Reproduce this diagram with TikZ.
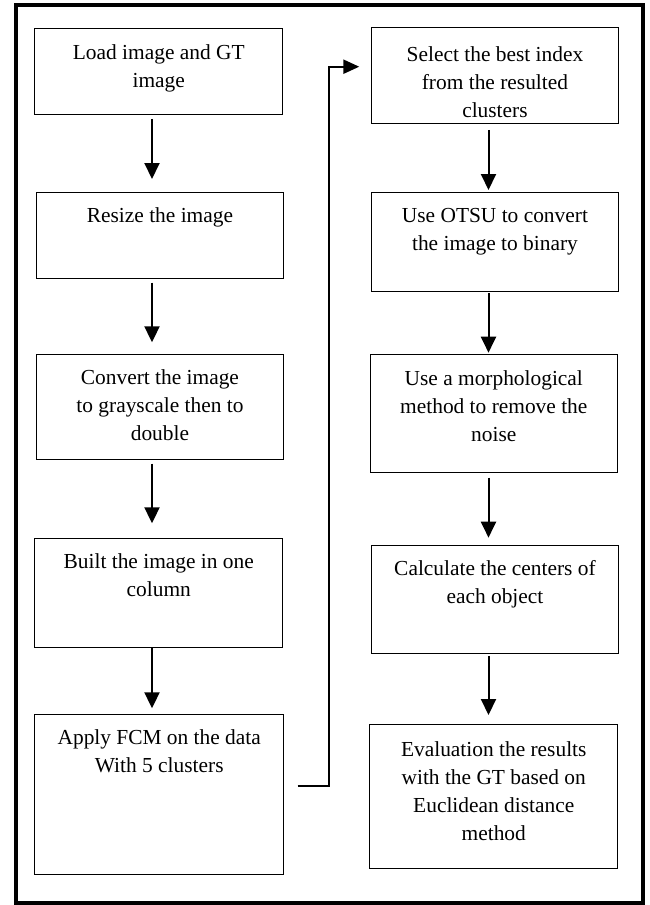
\documentclass[tikz,border=0pt]{standalone}
\usepackage{fontspec}
\setmainfont{Liberation Serif}
\usetikzlibrary{arrows.meta,calc}
\newcommand\flowtext[4]{\parbox[c][#2pt][t]{#1pt}{\centering\fontsize{21.4}{28}\selectfont\rule{0pt}{#3pt}#4\par}}
\begin{document}
\begin{tikzpicture}[x=1pt,y=-1pt,
  box/.style={draw, line width=0.9pt, inner sep=0pt, anchor=north west},
  flow/.style={line width=2pt, -{Triangle[width=15pt,length=16pt]}},
  conn/.style={line width=2.3pt, -{Triangle[width=14pt,length=16pt]}},
  frame/.style={line width=4pt}]
\useasboundingbox (0,0) rectangle (649,905);
\draw[frame] (16,5.3) rectangle (642.8,903);
% left column
\node[box] (b1) at (34.3,28.3) {\flowtext{248}{86}{31}{Load image and GT\\ image}};
\node[box] (b2) at (35.7,191.7) {\flowtext{247.6}{86}{30}{Resize the image}};
\node[box] (b3) at (35.7,353.7) {\flowtext{247.6}{105.3}{30.3}{Convert the image\\ to grayscale then to\\ double}};
\node[box] (b4) at (34.3,538.3) {\flowtext{248}{108.4}{30}{Built the image in one\\ column}};
\node[box] (b5) at (34.3,714) {\flowtext{249}{160}{30.3}{Apply FCM on the data\\ With 5 clusters}};
% right column
\node[box] (r1) at (370.7,26.7) {\flowtext{247.6}{96.6}{34}{Select the best index\\ from the resulted\\ clusters}};
\node[box] (r2) at (370.7,191.7) {\flowtext{247.6}{99.3}{30}{Use OTSU to convert\\ the image to binary}};
\node[box] (r3) at (370,353.7) {\flowtext{246.7}{118.6}{31}{Use a morphological\\ method to remove the\\ noise}};
\node[box] (r4) at (370.7,545) {\flowtext{247.6}{108.3}{30}{Calculate the centers of\\ each object}};
\node[box] (r5) at (369.3,724.3) {\flowtext{248}{144}{32}{Evaluation the results\\ with the GT based on\\ Euclidean distance\\ method}};
% arrow columns
\coordinate (lx) at (152,0);
\coordinate (rx) at (488.5,0);
\draw[flow, shorten <=3.7pt, shorten >=12.7pt] (b1.south -| lx) -- (b2.north -| lx);
\draw[flow, shorten <=4pt, shorten >=11.4pt] (b2.south -| lx) -- (b3.north -| lx);
\draw[flow, shorten <=3.7pt, shorten >=15pt] (b3.south -| lx) -- (b4.north -| lx);
\draw[flow, shorten <=0pt, shorten >=5.7pt] (b4.south -| lx) -- (b5.north -| lx);
\draw[flow, shorten <=5.7pt, shorten >=1.7pt] (r1.south -| rx) -- (r2.north -| rx);
\draw[flow, shorten <=1pt, shorten >=1pt] (r2.south -| rx) -- (r3.north -| rx);
\draw[flow, shorten <=4.4pt, shorten >=7.3pt] (r3.south -| rx) -- (r4.north -| rx);
\draw[flow, shorten <=1.7pt, shorten >=9.3pt] (r4.south -| rx) -- (r5.north -| rx);
% connector from FCM to Select
\coordinate (c1) at (329,785.7);
\coordinate (c2) at (329,66.7);
\draw[conn, shorten <=13.4pt, shorten >=11.4pt] (b5.east |- c1) -- (c1) -- (c2) -- (r1.west |- c2);
\end{tikzpicture}
\end{document}
